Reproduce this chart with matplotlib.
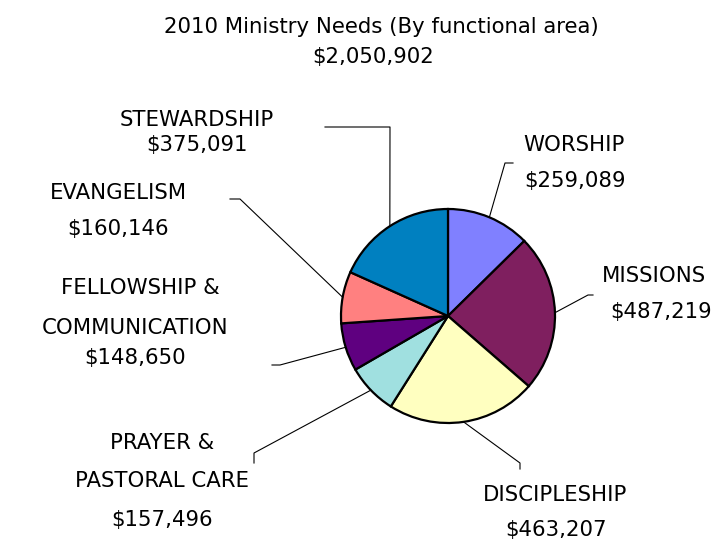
import numpy as np
import matplotlib
matplotlib.use("Agg")
import matplotlib.pyplot as plt

categories = ["WORSHIP", "MISSIONS", "DISCIPLESHIP", "PRAYER &\nPASTORAL CARE",
              "FELLOWSHIP &\nCOMMUNICATION", "EVANGELISM", "STEWARDSHIP"]
values = [259089, 487219, 463207, 157496, 148650, 160146, 375091]
value_labels = ["$259,089", "$487,219", "$463,207", "$157,496", "$148,650", "$160,146", "$375,091"]
colors = ["#8080FF", "#7F1F5F", "#FFFFC0", "#A0E0E0", "#5F0080", "#FF8080", "#0080C0"]
title = "2010 Ministry Needs (By functional area)"
total_label = "$2,050,902"

W, H = 726, 542
fig = plt.figure(figsize=(W / 100, H / 100), dpi=100)
ax = fig.add_axes([0, 0, 1, 1])

def P(x, y):
    return (x, H - y)

cx, cy, R = 448, 316, 107
wedges, _ = ax.pie(values, colors=colors, startangle=90, counterclock=False,
                   center=P(cx, cy), radius=R, frame=True,
                   wedgeprops=dict(edgecolor="black", linewidth=1.6))
ax.set_xlim(0, W)
ax.set_ylim(0, H)
ax.set_aspect("equal")
ax.axis("off")

FONT = "DejaVu Sans"
FS = 15.3
ax.text(*P(381, 27), title, ha="center", va="center", fontsize=FS, family=FONT)
ax.text(*P(373, 57), total_label, ha="center", va="center", fontsize=FS, family=FONT)

layout = [
    dict(xs=[574, 575], ys=[145, 181], elbow=[(505, 163), (513, 163)]),
    dict(xs=[654, 661], ys=[276, 312], elbow=[(588, 295), (593, 295)]),
    dict(xs=[555, 556], ys=[495, 530], elbow=[(520, 463), (520, 469)]),
    dict(xs=[162, 162, 162], ys=[443, 481, 520], elbow=[(254, 453), (254, 463)]),
    dict(xs=[140, 135, 135], ys=[288, 328, 358], elbow=[(280, 365), (272, 365)]),
    dict(xs=[118, 118], ys=[193, 229], elbow=[(240, 199), (230, 199)]),
    dict(xs=[197, 197], ys=[120, 145], elbow=[(390, 127), (325, 127)]),
]

for w, cat, vl, lay in zip(wedges, categories, value_labels, layout):
    mid = np.deg2rad((w.theta1 + w.theta2) / 2)
    ex = cx + R * np.cos(mid)
    ey = cy - R * np.sin(mid)
    pts = [(ex, ey)] + lay["elbow"]
    px = [p[0] for p in pts]
    py = [H - p[1] for p in pts]
    ax.plot(px, py, color="black", linewidth=0.8)
    lines = cat.split("\n") + [vl]
    for t, x, y in zip(lines, lay["xs"], lay["ys"]):
        ax.text(*P(x, y), t, ha="center", va="center", fontsize=FS, family=FONT)

fig.savefig("out.png", dpi=100)
